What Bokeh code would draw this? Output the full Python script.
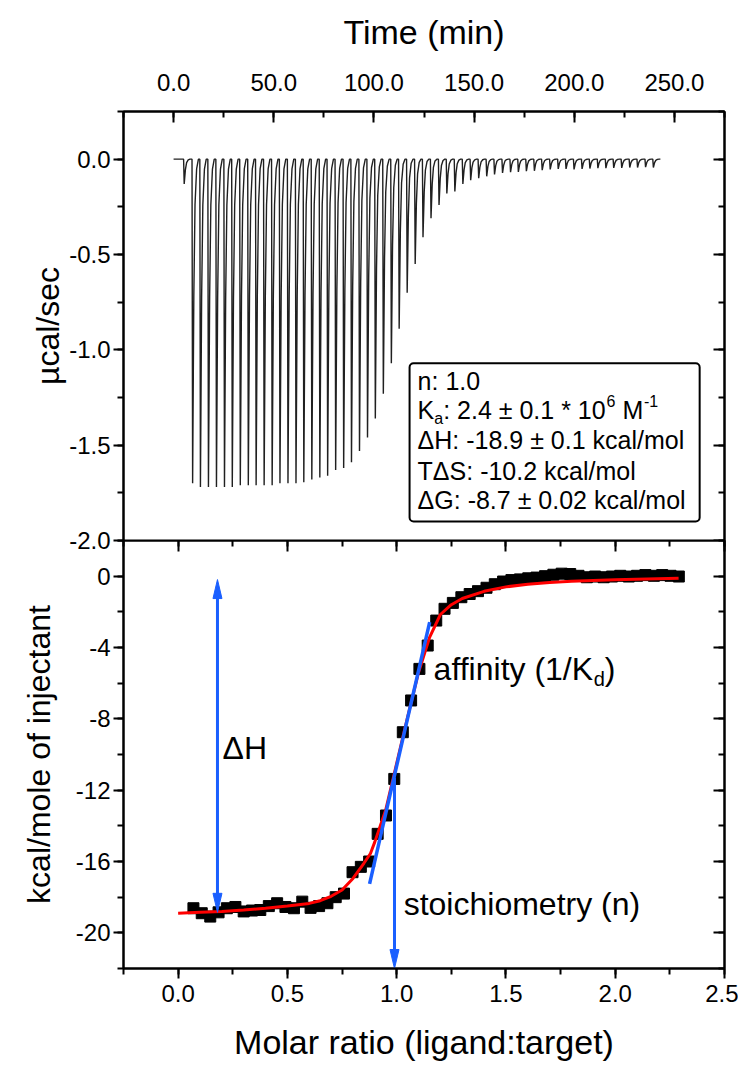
import numpy as np
from bokeh.plotting import figure
from bokeh.layouts import column
from bokeh.models import (Range1d, LinearAxis, SingleIntervalTicker, PrintfTickFormatter,
                          CustomJSTickFormatter, BoxAnnotation)
from bokeh.core.properties import value
from bokeh.embed import file_html
from bokeh.resources import INLINE

FONT = "Liberation Sans"
BLUE = "#1a5fff"

# ---------------- data: thermogram (raw injections) ----------------
inj_time = [5.0, 9.2, 13.1, 17.1, 21.1, 25.1, 29.0, 33.0, 37.0, 40.9, 44.9, 48.9, 52.8,
            56.8, 60.8, 64.7, 68.7, 72.7, 76.6, 80.6, 84.6, 88.5, 92.5, 96.5, 100.4,
            104.4, 108.4, 112.3, 116.3, 120.3, 124.2, 128.2, 132.2, 136.1, 140.1, 144.1,
            148.0, 152.0, 156.0, 159.9, 163.9, 167.9, 171.8, 175.8, 179.8, 183.7, 187.7,
            191.7, 195.6, 199.6, 203.6, 207.5, 211.5, 215.5, 219.4, 223.4, 227.4, 231.3,
            235.3, 239.2]
inj_peak = [-0.13,
            -1.70, -1.72, -1.72, -1.72, -1.72, -1.72, -1.71, -1.71, -1.71, -1.71, -1.71,
            -1.70, -1.70,
            -1.70, -1.695, -1.68, -1.67, -1.66, -1.63, -1.62, -1.59, -1.53, -1.46, -1.36,
            -1.23, -1.07, -0.89,
            -0.70, -0.55, -0.41, -0.31, -0.24, -0.18, -0.17, -0.13, -0.11, -0.10, -0.09,
            -0.08, -0.072, -0.068, -0.067, -0.063, -0.061, -0.058, -0.054, -0.051, -0.051,
            -0.054, -0.051, -0.049, -0.047, -0.047, -0.046, -0.046, -0.044, -0.044, -0.042,
            -0.044]
baseline_start = 0.0
baseline_end = 243.0

# ---------------- data: integrated heats ----------------
molar_ratio = [0.070, 0.108, 0.147, 0.185, 0.223, 0.262, 0.300, 0.338, 0.376, 0.415,
               0.453, 0.491, 0.530, 0.568, 0.606, 0.645, 0.683, 0.721, 0.759, 0.798,
               0.836, 0.874, 0.913, 0.951, 0.989, 1.028, 1.066, 1.104, 1.142, 1.181,
               1.219, 1.257, 1.296, 1.334, 1.372, 1.411, 1.449, 1.487, 1.525, 1.564,
               1.602, 1.640, 1.679, 1.717, 1.755, 1.794, 1.832, 1.870, 1.908, 1.947,
               1.985, 2.023, 2.062, 2.100, 2.138, 2.177, 2.215, 2.253, 2.291]
heat = [-18.62, -18.90, -19.09, -18.85, -18.62, -18.55, -18.80, -18.75, -18.72, -18.50,
        -18.34, -18.55, -18.62, -18.25, -18.60, -18.50, -18.34, -18.00, -17.80, -16.60,
        -16.30, -16.00, -14.45, -13.42, -11.37, -8.75, -6.97, -5.20, -3.89, -2.49,
        -1.83, -1.50, -1.18, -1.00, -0.84, -0.65, -0.45, -0.30, -0.22, -0.18,
        -0.12, -0.08, 0.00, 0.08, 0.14, 0.12, 0.02, -0.06, -0.02, -0.06,
        -0.02, 0.02, -0.02, 0.02, 0.06, 0.02, 0.06, 0.02, -0.02]

fit_ratio = [0.00, 0.10, 0.20, 0.30, 0.40, 0.50, 0.60, 0.65, 0.70, 0.75, 0.80, 0.85, 0.88,
             0.90, 0.95, 1.00, 1.05, 1.10, 1.15, 1.20, 1.25, 1.30, 1.40, 1.50, 1.60, 1.70,
             1.80, 2.00, 2.29]
fit_heat = [-18.90, -18.85, -18.80, -18.72, -18.62, -18.50, -18.35, -18.20, -17.95, -17.60,
            -16.95, -16.10, -15.55, -14.90, -13.10, -10.50, -7.90, -5.40, -3.45, -2.15,
            -1.60, -1.25, -0.85, -0.60, -0.45, -0.35, -0.28, -0.20, -0.12]

# annotation geometry (data units of the lower panel)
tangent_ratio = [0.876, 1.151]
tangent_heat = [-17.25, -2.58]
dH_arrow_x, dH_arrow_bottom, dH_arrow_top = 0.180, -18.85, -0.19
n_arrow_x, n_arrow_top, n_arrow_bottom = 0.990, -11.30, -22.0

# ---------------- helpers ----------------
def style_axis(ax, inward, labels, title_size="32px"):
    ax.axis_line_color = "black"
    ax.axis_line_width = 2
    ax.major_tick_line_color = "black"
    ax.major_tick_line_width = 2
    ax.minor_tick_line_color = "black"
    ax.minor_tick_line_width = 2
    if inward:
        ax.major_tick_in, ax.major_tick_out = 11, 0
        ax.minor_tick_in, ax.minor_tick_out = 6, 0
    else:
        ax.major_tick_in, ax.major_tick_out = 0, 10
        ax.minor_tick_in, ax.minor_tick_out = 0, 6
    ax.major_label_text_font = FONT
    ax.major_label_text_color = "black"
    if labels:
        ax.major_label_text_font_size = "24px"
    else:
        ax.major_label_text_font_size = "0px"
        ax.major_label_standoff = 0
        ax.formatter = CustomJSTickFormatter(code="return ''")
    ax.axis_label_text_font = FONT
    ax.axis_label_text_font_size = title_size
    ax.axis_label_text_font_style = "normal"
    ax.axis_label_text_color = "black"


def base_fig(h, xr, yr, **kw):
    p = figure(width=738, height=h, x_range=xr, y_range=yr, output_backend="svg",
               toolbar_location=None, min_border_left=123, min_border_right=14, **kw)
    p.grid.visible = False
    p.outline_line_color = "black"
    p.outline_line_width = 2
    p.background_fill_color = "white"
    return p

# ---------------- top panel: raw thermogram ----------------
p1 = base_fig(554, Range1d(-25, 275), Range1d(-2.0, 0.25), x_axis_location="above",
              min_border_top=111, min_border_bottom=14)
p1.border_fill_color = "white"

ax = p1.xaxis[0]
ax.ticker = SingleIntervalTicker(interval=50, num_minor_ticks=2)
ax.formatter = PrintfTickFormatter(format="%.1f")
style_axis(ax, inward=True, labels=True, title_size="34px")
ax.axis_label = "Time (min)"
ax.major_label_standoff = 21
ax.axis_label_standoff = 20

ay = p1.yaxis[0]
ay.ticker = SingleIntervalTicker(interval=0.5, num_minor_ticks=2)
ay.formatter = PrintfTickFormatter(format="%.1f")
style_axis(ay, inward=False, labels=True)
ay.axis_label = "µcal/sec"
ay.major_label_standoff = 3
ay.axis_label_standoff = 0

ar = LinearAxis(ticker=SingleIntervalTicker(interval=0.5, num_minor_ticks=2))
style_axis(ar, inward=True, labels=False)
p1.add_layout(ar, "right")

# build thermogram trace: each injection is a sharp exothermic spike
shape = [(0.0, 0.0), (0.3, 1.0), (0.9, 0.42), (1.5, 0.14), (2.3, 0.03), (3.2, 0.0)]
tt, vv = [baseline_start], [0.0]
for t0, d in zip(inj_time, inj_peak):
    for dt, f in shape:
        tt.append(t0 + dt)
        vv.append(f * d)
tt.append(baseline_end)
vv.append(0.0)
p1.line(tt, vv, line_color="#202020", line_width=1.4)

# parameters box
box = BoxAnnotation(left=117.8, right=262.6, top=-1.071, bottom=-1.900,
                    fill_color="white", fill_alpha=1.0, line_color="black",
                    line_alpha=1.0, line_width=2, border_radius=4)
p1.add_layout(box)

lx = 121.8
rows_y = [-1.161, -1.318, -1.475, -1.633, -1.790]
plain = [("n: 1.0", rows_y[0]),
         ("ΔH: -18.9 ± 0.1 kcal/mol", rows_y[2]),
         ("TΔS: -10.2 kcal/mol", rows_y[3]),
         ("ΔG: -8.7 ± 0.02 kcal/mol", rows_y[4])]
p1.text(x=[lx] * len(plain), y=[r[1] for r in plain], text=[r[0] for r in plain],
        text_font=value(FONT), text_font_size="25px", text_baseline="middle",
        text_color="black", level="overlay")
# K_a line with sub/superscripts
p1.text(x=[lx, lx, lx], y=[rows_y[1]] * 3, text=["K", ": 2.4 ± 0.1 * 10", "M"],
        x_offset=[0, 25.6, 204.8], text_font=value(FONT), text_font_size="25px",
        text_baseline="middle", text_color="black", level="overlay")
p1.text(x=[lx], y=[rows_y[1]], text=["a"], x_offset=[16.7], y_offset=[8],
        text_font=value(FONT), text_font_size="16px", text_baseline="middle",
        text_color="black", level="overlay")
p1.text(x=[lx, lx], y=[rows_y[1]] * 2, text=["6", "-1"], x_offset=[188.9, 226.4],
        y_offset=[-9, -9], text_font=value(FONT), text_font_size="16px",
        text_baseline="middle", text_color="black", level="overlay")

# ---------------- bottom panel: binding isotherm ----------------
p2 = base_fig(529, Range1d(-0.25, 2.5), Range1d(-22, 2), min_border_top=0,
              min_border_bottom=101)
p2.border_fill_alpha = 0.0
p2.margin = (-14, 0, 0, 0)

bx = p2.xaxis[0]
bx.ticker = SingleIntervalTicker(interval=0.5, num_minor_ticks=2)
bx.formatter = PrintfTickFormatter(format="%.1f")
style_axis(bx, inward=False, labels=True, title_size="34px")
bx.axis_label = "Molar ratio (ligand:target)"
bx.major_label_standoff = 6
bx.axis_label_standoff = 18

by = p2.yaxis[0]
by.ticker = SingleIntervalTicker(interval=4, num_minor_ticks=2)
by.formatter = PrintfTickFormatter(format="%d")
style_axis(by, inward=False, labels=True)
by.axis_label = "kcal/mole of injectant"
by.major_label_standoff = 3
by.axis_label_standoff = 16

at = LinearAxis(ticker=SingleIntervalTicker(interval=0.5, num_minor_ticks=2))
style_axis(at, inward=True, labels=False)
p2.add_layout(at, "above")
arr = LinearAxis(ticker=SingleIntervalTicker(interval=4, num_minor_ticks=2))
style_axis(arr, inward=True, labels=False)
p2.add_layout(arr, "right")

p2.scatter(molar_ratio, heat, marker="square", size=11, color="black")
p2.line(fit_ratio, fit_heat, line_color="#ff0000", line_width=3)
p2.line(tangent_ratio, tangent_heat, line_color=BLUE, line_width=3.5)

# arrows
px_x = 2.75 / 601.0
px_y = 24.0 / 428.0
hw, hl = 4.5 * px_x, 19 * px_y
p2.line([dH_arrow_x, dH_arrow_x], [dH_arrow_bottom + hl * 0.8, dH_arrow_top - hl * 0.8],
        line_color=BLUE, line_width=3)
p2.line([n_arrow_x, n_arrow_x], [n_arrow_top, n_arrow_bottom + hl * 0.8],
        line_color=BLUE, line_width=3)
heads_x = [[dH_arrow_x, dH_arrow_x - hw, dH_arrow_x + hw],
           [dH_arrow_x, dH_arrow_x - hw, dH_arrow_x + hw],
           [n_arrow_x, n_arrow_x - hw, n_arrow_x + hw]]
heads_y = [[dH_arrow_top, dH_arrow_top - hl, dH_arrow_top - hl],
           [dH_arrow_bottom, dH_arrow_bottom + hl, dH_arrow_bottom + hl],
           [n_arrow_bottom, n_arrow_bottom + hl, n_arrow_bottom + hl]]
p2.patches(heads_x, heads_y, fill_color=BLUE, line_color=BLUE, line_width=1)

# annotation texts
p2.text(x=[0.203, 1.032], y=[-9.61, -18.36], text=["ΔH", "stoichiometry (n)"],
        text_font=value(FONT), text_font_size="32px", text_baseline="middle",
        text_color="black")
p2.text(x=[1.169, 1.169], y=[-5.18, -5.18], text=["affinity (1/K", ")"],
        x_offset=[0, 171.2], text_font=value(FONT), text_font_size="32px",
        text_baseline="middle", text_color="black")
p2.text(x=[1.169], y=[-5.18], text=["d"], x_offset=[160.1], y_offset=[10],
        text_font=value(FONT), text_font_size="20px", text_baseline="middle",
        text_color="black")

layout = column(p1, p2, spacing=0)
open("out.html", "w").write(file_html(layout, INLINE))
